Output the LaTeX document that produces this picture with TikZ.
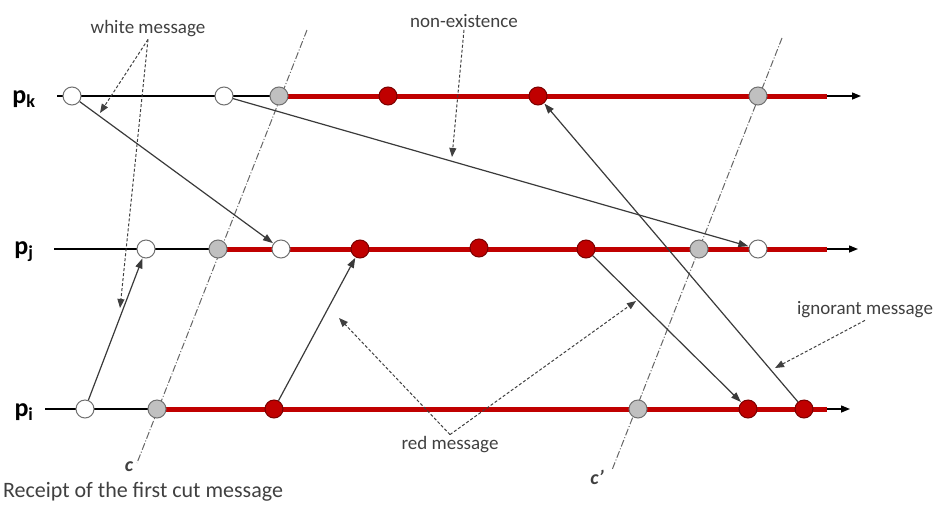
\documentclass[tikz,border=0pt]{standalone}
\usepackage{fontspec}
\setmainfont{Carlito}
\usetikzlibrary{arrows.meta}
\definecolor{redline}{HTML}{C00000}
\definecolor{redev}{HTML}{C00000}
\definecolor{redbd}{HTML}{7A0000}
\definecolor{txt}{HTML}{404040}
\definecolor{msg}{HTML}{3A3A3A}
\definecolor{evbd}{HTML}{707070}
\definecolor{grayev}{HTML}{C0C0C0}
\begin{document}
\begin{tikzpicture}[x=1pt,y=-1pt,
  ev/.style={circle, draw=evbd, line width=1pt, minimum size=18pt, inner sep=0pt},
  wev/.style={ev, fill=white},
  gev/.style={ev, fill=grayev},
  rev/.style={ev, fill=redev, draw=redbd},
  blackline/.style={line width=1.4pt, black},
  redtl/.style={line width=5pt, redline},
  tip/.style={-{Triangle[length=9pt,width=7pt]}},
  msgarrow/.style={msg, line width=1.2pt, -{Triangle[length=10pt,width=7pt]}, shorten >=0.5pt},
  annot/.style={txt, line width=1pt, dashed, dash pattern=on 3pt off 2pt, -{Triangle[length=9pt,width=7pt]}},
  cutline/.style={gray!80!black, line width=1pt, dash pattern=on 7pt off 2pt on 1pt off 2pt},
  lbl/.style={txt, font=\fontsize{19}{21}\selectfont, inner sep=2pt},
  proc/.style={font=\fontsize{26}{28}\selectfont\bfseries, anchor=center}
]
\useasboundingbox (0,0) rectangle (934,504);

% timeline coordinates
\coordinate (kS) at (57,96);   \coordinate (kR) at (827,96);  \coordinate (kE) at (861,96);
\coordinate (jS) at (54,249);  \coordinate (jR) at (827,249); \coordinate (jE) at (858,249);
\coordinate (iS) at (45,409);  \coordinate (iR) at (827,409); \coordinate (iE) at (850,409);

% gray cut points
\coordinate (kg) at (279,96);  \coordinate (jg) at (218,249); \coordinate (ig) at (157,409);

% timelines
\draw[blackline] (kS) -- (kg);
\draw[redtl] (kg) -- (kR);
\draw[blackline, tip] (kR) -- (kE);
\draw[blackline] (jS) -- (jg);
\draw[redtl] (jg) -- (jR);
\draw[blackline, tip] (jR) -- (jE);
\draw[blackline] (iS) -- (ig);
\draw[redtl] (ig) -- (iR);
\draw[blackline, tip] (iR) -- (iE);

% cut lines
\coordinate (cTop) at (307,30);   \coordinate (cBot) at (137,463);
\coordinate (dTop) at (782,38);   \coordinate (dBot) at (612,470);
\draw[cutline] (cTop) -- (cBot);
\draw[cutline] (dTop) -- (dBot);

% process labels
\node[proc] (pk) at (24,99) {p\textsubscript{k}};
\node[proc] (pj) at (24,252) {p\textsubscript{j}};
\node[proc] (pi) at (24,412) {p\textsubscript{i}};

% events on p_k
\node[wev] (k1) at (72,96) {};
\node[wev] (k2) at (224,96) {};
\node[gev] (k3) at (kg) {};
\node[rev] (k4) at (388,96) {};
\node[rev] (k5) at (538,96) {};
\node[gev] (k6) at (758,96) {};

% events on p_j
\node[wev] (j1) at (146,249) {};
\node[gev] (j2) at (jg) {};
\node[wev] (j3) at (281,249) {};
\node[rev] (j4) at (360,249) {};
\node[rev] (j5) at (479,248) {};
\node[rev] (j6) at (586,249) {};
\node[gev] (j7) at (699,249) {};
\node[wev] (j8) at (758,249) {};

% events on p_i
\node[wev] (i1) at (85,409) {};
\node[gev] (i2) at (ig) {};
\node[rev] (i3) at (274,409) {};
\node[gev] (i4) at (638,409) {};
\node[rev] (i5) at (748,409) {};
\node[rev] (i6) at (804,409) {};

% messages
\draw[msgarrow] (k1) -- (j3);
\draw[msgarrow] (k2) -- (j8);
\draw[msgarrow] (i1) -- (j1);
\draw[msgarrow] (i3) -- (j4);
\draw[msgarrow] (j6) -- (i5);
\draw[msgarrow] (i6) -- (k5);

% annotations
\node[lbl] (wm) at (148,29) {white message};
\coordinate (wmA) at (100,113);
\coordinate (wmB) at (120,308);
\draw[annot] (wm.south) -- (wmA);
\draw[annot] (wm.south) -- (wmB);

\node[lbl] (ne) at (464,21) {non-existence};
\coordinate (neA) at (452,157);
\draw[annot] (ne.south) -- (neA);

\node[lbl] (rm) at (450,445) {red message};
\coordinate (rmA) at (339,318);
\coordinate (rmB) at (636,301);
\draw[annot] (rm.north) -- (rmA);
\draw[annot] (rm.north) -- (rmB);

\node[lbl] (im) at (865,310) {ignorant message};
\coordinate (imA) at (775,368);
\draw[annot] (im.south) -- (imA);

\node[lbl, font=\fontsize{20}{22}\selectfont\bfseries\itshape] (cl) at (129,467) {c};
\node[lbl, font=\fontsize{20}{22}\selectfont\bfseries\itshape] (cpl) at (597,477) {c’};
\node[lbl, font=\fontsize{22}{24}\selectfont] (rc) at (143,492) {Receipt of the first cut message};
\end{tikzpicture}
\end{document}
